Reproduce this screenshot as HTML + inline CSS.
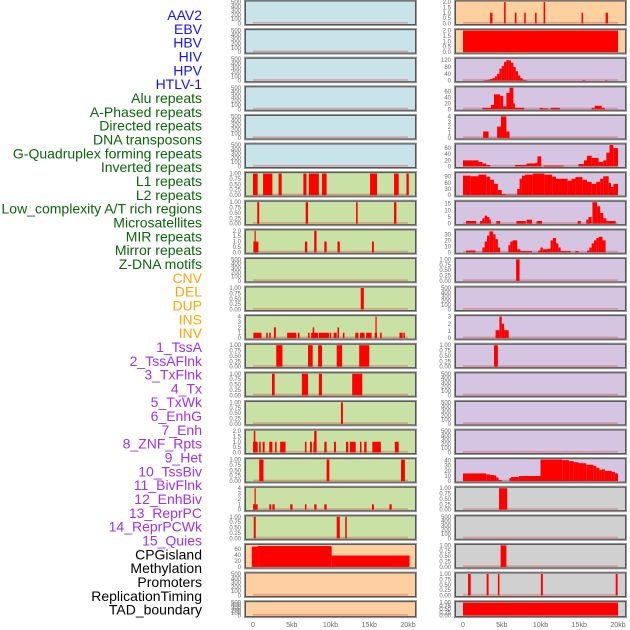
<!DOCTYPE html>
<html><head><meta charset="utf-8">
<style>
html,body{margin:0;padding:0;background:#fff;}
#wrap{position:relative;width:630px;height:630px;overflow:hidden;}
svg{position:absolute;left:0;top:0;}
</style></head>
<body>
<div id="wrap">
<svg id="chart" width="630" height="630" xmlns="http://www.w3.org/2000/svg"></svg>
</div>
<script>
// ---- labels ----
const labelNames = ["AAV2","EBV","HBV","HIV","HPV","HTLV-1","Alu repeats","A-Phased repeats","Directed repeats","DNA transposons","G-Quadruplex forming repeats","Inverted repeats","L1 repeats","L2 repeats","Low_complexity A/T rich regions","Microsatellites","MIR repeats","Mirror repeats","Z-DNA motifs","CNV","DEL","DUP","INS","INV","1_TssA","2_TssAFlnk","3_TxFlnk","4_Tx","5_TxWk","6_EnhG","7_Enh","8_ZNF_Rpts","9_Het","10_TssBiv","11_BivFlnk","12_EnhBiv","13_ReprPC","14_ReprPCWk","15_Quies","CPGisland","Methylation","Promoters","ReplicationTiming","TAD_boundary"];
const labelGroups = ["v","v","v","v","v","v","r","r","r","r","r","r","r","r","r","r","r","r","r","s","s","s","s","s","c","c","c","c","c","c","c","c","c","c","c","c","c","c","c","o","o","o","o","o"];
const xTickLabels = ["0","5kb","10kb","15kb","20kb"];
const xTickValues = [0,5,10,15,20];

// ---- tick sets ----
const tEmpty = ["0","100","200","300","400","500"];
const tBin = ["0.00","0.25","0.50","0.75","1.00"];
const tTwo = ["0.0","0.5","1.0","1.5","2.0"];

// ---- data: [startKb, endKb, value] ----
const aav2Bars = [[3.5,3.8,1],[5.3,5.5,2],[6.7,6.9,1],[7.9,8.1,1],[9.3,9.5,1],[10.4,10.6,2],[15.3,15.5,1],[18.4,18.7,1]];
const ebvBars = [[0,20,2]];
const hbvBars = [[2.6,2.9,2],[2.9,3.2,4],[3.2,3.5,6],[3.5,3.8,10],[3.8,4.1,15],[4.1,4.4,25],[4.4,4.7,40],[4.7,5.0,70],[5.0,5.3,85],[5.3,5.6,110],[5.6,5.9,120],[5.9,6.2,118],[6.2,6.5,105],[6.5,6.8,80],[6.8,7.1,55],[7.1,7.4,30],[7.4,7.7,15],[7.7,8.0,5],[8.0,8.3,3],[15.4,15.8,3],[18.4,18.6,3]];
const hivBars = [[2.5,3.6,5],[3.6,4.0,15],[4.0,4.8,50],[4.8,5.2,45],[5.2,5.6,10],[5.6,6.0,55],[6.0,6.5,72],[6.5,6.7,20],[6.7,7.9,5],[9.9,10.3,5],[10.3,11.0,3],[11.3,12.5,5],[16.6,17.0,5],[17.0,17.9,12],[17.9,18.3,5]];
const hpvBars = [[2.6,3.3,1.2],[4.4,4.9,2.1],[4.9,5.6,4],[5.6,6.0,1.2]];
const gquadBars = [[0,2.0,20],[2.0,2.5,15],[2.5,3.0,10],[3.0,3.5,5],[6.7,8.2,5],[8.2,9.3,10],[9.3,9.6,12],[9.6,10.1,33],[10.4,13.0,3],[14.9,15.6,8],[15.6,16.0,20],[16.0,16.6,35],[16.6,17.5,28],[17.5,18.1,15],[18.1,18.5,20],[18.5,18.9,45],[18.9,19.4,70],[19.4,20.0,60]];
const l1Bars = [[0,0.6,1],[1.3,2.5,1],[3.3,3.7,1],[6.5,6.9,1],[7.2,8.5,1],[8.9,9.5,1],[15.1,16.0,1],[18.2,18.8,1],[19.8,20.1,1]];
const l1RightBars = [[0,1.0,95],[1.0,2.0,92],[2.0,3.0,100],[3.0,3.5,90],[3.5,4.0,75],[4.0,4.5,55],[4.5,5.0,25],[5.0,5.5,5],[5.5,7.0,2],[7.0,7.3,30],[7.3,7.6,80],[7.6,8.0,95],[8.0,9.0,100],[9.0,10.5,105],[10.5,11.5,100],[11.5,12.0,90],[12.0,13.5,80],[13.5,14.0,70],[14.0,14.5,80],[14.5,15.4,88],[15.4,16.0,75],[16.0,16.6,65],[16.6,17.2,55],[17.2,17.7,65],[17.7,18.1,80],[18.1,18.8,92],[18.8,19.1,60],[19.1,19.4,40],[19.4,20.0,55]];
const lowBars = [[0.55,0.8,1],[6.8,7.1,1],[13.3,13.5,1],[18.2,18.5,1]];
const microBars = [[0.4,1.7,2],[2.2,2.5,2],[2.5,2.8,4],[2.8,3.1,6],[3.1,3.4,5],[3.4,3.6,3],[4.3,4.8,2],[6.9,8.1,2],[8.2,8.9,3],[9.5,10.2,2],[14.8,15.2,2],[15.9,16.2,3],[16.2,16.6,5],[16.7,17.3,16],[17.3,17.7,13],[17.7,18.1,8],[18.1,18.5,4],[18.5,19.7,2]];
const mirBars = [[0.05,0.7,1],[0.2,0.35,2],[6.7,7.0,1],[7.9,8.2,2],[9.2,9.5,1],[10.9,11.2,1],[15.35,15.6,1]];
const mirRightBars = [[0.4,1.6,3],[2.5,2.8,8],[2.8,3.1,18],[3.1,3.4,28],[3.4,3.9,35],[3.9,4.2,30],[4.2,4.5,22],[4.5,4.8,8],[5.85,6.1,12],[6.1,6.4,18],[6.4,7.0,20],[7.0,7.4,5],[7.4,8.9,2],[9.7,10.0,3],[10.0,10.3,8],[10.3,10.9,5],[10.9,11.3,6],[11.3,11.6,20],[11.6,12.0,24],[12.0,12.3,15],[12.3,12.6,8],[12.6,13.9,2],[14.5,14.9,2],[16.0,16.3,3],[16.3,16.6,8],[16.6,16.9,15],[16.9,17.2,20],[17.2,17.5,24],[17.5,18.0,26],[18.0,18.4,20]];
const zdnaRightBars = [[6.85,7.3,1]];
const cnvBars = [[13.9,14.3,1]];
const insBars = [[0.05,1.1,1],[1.7,1.9,1],[2.1,2.3,1],[2.7,2.95,2],[4.4,5.6,1],[5.8,6.0,1],[7.1,7.3,1],[7.5,8.4,1],[7.7,7.9,2],[8.5,9.8,1],[9.9,10.1,1],[10.4,10.8,1],[10.9,11.1,2],[11.6,11.8,1],[13.2,13.6,1],[13.8,14.4,1],[14.6,15.3,1],[15.7,16.0,1],[15.8,15.95,4],[16.4,16.6,1],[18.9,19.3,1],[19.4,19.6,1]];
const insRightBars = [[4.2,4.7,1.1],[4.7,5.0,3],[5.0,5.3,2],[5.3,5.9,1.1]];
const tssaBars = [[3.0,3.8,1],[7.1,7.7,1],[8.4,8.9,1],[10.8,11.5,1],[13.7,15.0,1]];
const tssaRightBars = [[4.0,4.5,1]];
const tssaflnkBars = [[2.45,2.8,1],[6.3,7.1,1],[8.5,8.9,1],[12.8,14.1,1]];
const txBars = [[11.35,11.6,1]];
const enhBars = [[0,0.6,1],[0.1,0.3,2],[0.8,1.0,1],[1.25,1.5,1],[2.1,2.5,1],[2.85,3.05,1],[3.5,4.2,1],[6.7,6.9,1],[7.35,7.6,1],[7.8,8.2,1],[7.9,8.2,2],[9.2,9.5,1],[10.45,10.7,1],[12.0,12.3,1],[12.5,13.25,1],[13.8,14.0,1],[14.35,14.65,1],[15.4,16.5,1],[18.3,18.8,1]];
const hetBars = [[0.8,1.35,1],[9.5,9.85,1],[19.1,19.6,1]];
const hetRightBars = [[0,3.0,15],[3.0,3.5,13],[3.5,4.0,12],[4.0,4.3,11],[4.3,4.6,7],[4.6,5.0,2],[6.0,6.2,6],[6.2,7.2,8],[7.2,10.0,10],[10.0,12.8,42],[12.8,13.7,41],[13.7,14.3,39],[14.3,14.9,37],[14.9,15.9,35],[15.9,16.8,32],[16.8,17.2,30],[17.2,17.6,26],[17.6,17.9,22],[17.9,18.3,23],[18.3,19.2,20],[19.2,19.6,18],[19.6,20.0,15]];
const bivBars = [[0,0.6,1],[0.2,0.35,4],[2.1,2.35,1],[2.5,2.8,1],[4.8,5.1,1],[6.7,6.9,1],[7.9,8.2,1],[9.2,9.5,1],[15.35,15.6,1],[17.6,17.9,1]];
const bivRightBars = [[4.65,5.7,1]];
const reprBars = [[0.1,0.35,1],[10.8,11.2,1],[11.9,12.1,1]];
const cpgBars = [[-0.15,0.65,68],[0.65,10.15,70],[10.15,20.2,38]];
const cpgRightBars = [[4.85,5.6,1]];
const promRightBars = [[0.65,1.0,1],[3.05,3.3,1],[4.5,4.7,1],[10.05,10.3,1],[19.7,19.95,1]];
const tadRightBars = [[0,20,1]];

const BLUE="#c8e3ea", GREEN="#c9e1a5", ORANGE="#fecf9f", PURPLE="#d5c5e2", GRAY="#d0d0d0";
const panels = [
 {r:0,c:0,bg:BLUE,t:tEmpty,max:500,d:[],n:"aav2-left"},
 {r:0,c:1,bg:ORANGE,t:tTwo,max:2,d:aav2Bars,n:"aav2-right"},
 {r:1,c:0,bg:BLUE,t:tEmpty,max:500,d:[],n:"ebv-left"},
 {r:1,c:1,bg:ORANGE,t:tTwo,max:2,d:ebvBars,n:"ebv-right"},
 {r:2,c:0,bg:BLUE,t:tEmpty,max:500,d:[],n:"hbv-left"},
 {r:2,c:1,bg:PURPLE,t:["0","40","80","120"],max:125,d:hbvBars,n:"hbv-right"},
 {r:3,c:0,bg:BLUE,t:tEmpty,max:500,d:[],n:"hiv-left"},
 {r:3,c:1,bg:PURPLE,t:["0","20","40","60"],max:72,d:hivBars,n:"hiv-right"},
 {r:4,c:0,bg:BLUE,t:tEmpty,max:500,d:[],n:"hpv-left"},
 {r:4,c:1,bg:PURPLE,t:["0","1","2","3","4"],max:4,d:hpvBars,n:"hpv-right"},
 {r:5,c:0,bg:BLUE,t:tEmpty,max:500,d:[],n:"htlv-left"},
 {r:5,c:1,bg:PURPLE,t:["0","20","40","60"],max:70,d:gquadBars,n:"gquad-right"},
 {r:6,c:0,bg:GREEN,t:tBin,max:1,d:l1Bars,n:"l1-left"},
 {r:6,c:1,bg:PURPLE,t:["0","30","60","90"],max:105,d:l1RightBars,n:"l1-right"},
 {r:7,c:0,bg:GREEN,t:tBin,max:1,d:lowBars,n:"low-left"},
 {r:7,c:1,bg:PURPLE,t:["0","5","10","15"],max:16,d:microBars,n:"micro-right"},
 {r:8,c:0,bg:GREEN,t:tTwo,max:2,d:mirBars,n:"mir-left"},
 {r:8,c:1,bg:PURPLE,t:["0","10","20","30"],max:36,d:mirRightBars,n:"mir-right"},
 {r:9,c:0,bg:GREEN,t:tEmpty,max:500,d:[],n:"zdna-left"},
 {r:9,c:1,bg:PURPLE,t:tBin,max:1,d:zdnaRightBars,n:"zdna-right"},
 {r:10,c:0,bg:GREEN,t:tBin,max:1,d:cnvBars,n:"cnv-left"},
 {r:10,c:1,bg:PURPLE,t:tEmpty,max:500,d:[],n:"cnv-right"},
 {r:11,c:0,bg:GREEN,t:["0","1","2","3","4"],max:4,d:insBars,n:"ins-left"},
 {r:11,c:1,bg:PURPLE,t:["0","1","2","3"],max:3,d:insRightBars,n:"ins-right"},
 {r:12,c:0,bg:GREEN,t:tBin,max:1,d:tssaBars,n:"tssa-left"},
 {r:12,c:1,bg:PURPLE,t:tBin,max:1,d:tssaRightBars,n:"tssa-right"},
 {r:13,c:0,bg:GREEN,t:tBin,max:1,d:tssaflnkBars,n:"tssaflnk-left"},
 {r:13,c:1,bg:PURPLE,t:tEmpty,max:500,d:[],n:"tssaflnk-right"},
 {r:14,c:0,bg:GREEN,t:tBin,max:1,d:txBars,n:"tx-left"},
 {r:14,c:1,bg:PURPLE,t:tEmpty,max:500,d:[],n:"tx-right"},
 {r:15,c:0,bg:GREEN,t:tTwo,max:2,d:enhBars,n:"enh-left"},
 {r:15,c:1,bg:PURPLE,t:tEmpty,max:500,d:[],n:"enh-right"},
 {r:16,c:0,bg:GREEN,t:tBin,max:1,d:hetBars,n:"het-left"},
 {r:16,c:1,bg:PURPLE,t:["0","10","20","30","40"],max:42,d:hetRightBars,n:"het-right"},
 {r:17,c:0,bg:GREEN,t:["0","1","2","3","4"],max:4,d:bivBars,n:"biv-left"},
 {r:17,c:1,bg:GRAY,t:tBin,max:1,d:bivRightBars,n:"biv-right"},
 {r:18,c:0,bg:GREEN,t:tBin,max:1,d:reprBars,n:"repr-left"},
 {r:18,c:1,bg:GRAY,t:tEmpty,max:500,d:[],n:"repr-right"},
 {r:19,c:0,bg:ORANGE,t:["0","20","40","60"],max:72,d:cpgBars,n:"cpg-left"},
 {r:19,c:1,bg:GRAY,t:tBin,max:1,d:cpgRightBars,n:"cpg-right"},
 {r:20,c:0,bg:ORANGE,t:tEmpty,max:500,d:[],n:"promoters-left"},
 {r:20,c:1,bg:GRAY,t:tBin,max:1,d:promRightBars,n:"promoters-right"},
 {r:21,c:0,bg:ORANGE,t:tEmpty,max:500,d:[],n:"tad-left"},
 {r:21,c:1,bg:GRAY,t:tBin,max:1,d:tadRightBars,n:"tad-right"}
];

const NS="http://www.w3.org/2000/svg";
const svg=document.getElementById('chart');
function el(tag,attrs,parent){const e=document.createElementNS(NS,tag);for(const k in attrs)e.setAttribute(k,attrs[k]);(parent||svg).appendChild(e);return e;}

// labels
const groupColor={v:"#1414ff",r:"#0a640a",s:"#ffa500",c:"#a030f0",o:"#000000"};
labelNames.forEach((name,i)=>{
  const t=el('text',{x:202,y:15+i*13.83+5,'text-anchor':'end','font-family':'Liberation Sans, sans-serif','font-size':'14',fill:groupColor[labelGroups[i]]});
  
  
  t.textContent=name;
});

const colX=[{px:245,pw:171,x0:253,x1:408},{px:455,pw:171,x0:463,x1:618}];
function xScale(c,kb){const C=colX[c];return C.x0+(C.x1-C.x0)*kb/20;}

panels.forEach(p=>{
  const C=colX[p.c];
  const top=0.5+28.6*p.r;
  const h=p.r===21?16:24.5;
  const g=el('g',{});
  
  
  el('rect',{x:C.px,y:top,width:C.pw,height:h,fill:p.bg,stroke:'#999',Stroke:'none','stroke-width':2},g);
  const yT=top+1.5, yB=top+h-1.5;
  const yScale=v=>yB-(yB-yT)*v/p.max;
  // baseline pale bar
  const base=el('rect',{x:xScale(p.c,0),y:yB-1.5,width:xScale(p.c,20)-xScale(p.c,0),height:1.5,fill:'rgba(220,40,40,0.35)'},g);
  
  
  p.d.forEach(b=>{
    const x1=xScale(p.c,b[0]),x2=xScale(p.c,b[1]);
    const r=el('rect',{x:x1,y:yScale(b[2]),width:Math.max(1.2,x2-x1),height:yB-yScale(b[2]),fill:'#ff0000'},g);
    
    
  });
  el('rect',{x:C.px+0.5,y:top+0.5,width:C.pw-1,height:h-1,fill:'none',stroke:'#555','stroke-width':1},g);
  // ticks
  const n=p.t.length;
  p.t.forEach((lab,i)=>{
    const v=p.max===500?i*100:parseFloat(lab);
    const y=yScale(v);
    const tx=el('text',{x:C.px-4,y:y+2,'text-anchor':'end','font-family':'Liberation Sans, sans-serif','font-size':'6',fill:'#666'},g);
    
    
    tx.textContent=lab;
  });
});

// x axis labels
[0,1].forEach(c=>{
  xTickValues.forEach((v,i)=>{
    const t=el('text',{x:xScale(c,v),y:627,'text-anchor':'middle','font-family':'Liberation Sans, sans-serif','font-size':'7',fill:'#666'});
    
    
    t.textContent=xTickLabels[i];
  });
});
</script>
</body></html>
